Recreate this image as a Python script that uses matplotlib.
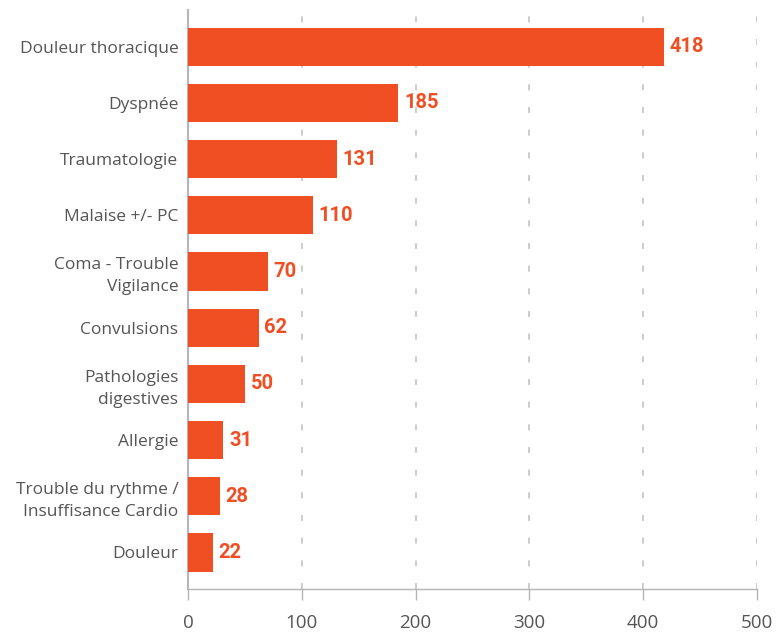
import matplotlib.pyplot as plt

categories = [
    "Douleur thoracique",
    "Dyspnée",
    "Traumatologie",
    "Malaise +/- PC",
    "Coma - Trouble\nVigilance",
    "Convulsions",
    "Pathologies\ndigestives",
    "Allergie",
    "Trouble du rythme /\nInsuffisance Cardio",
    "Douleur",
]
counts = [418, 185, 131, 110, 70, 62, 50, 31, 28, 22]
xticks = [0, 100, 200, 300, 400, 500]

BAR_COLOUR = "#F04E23"
TEXT_GREY = "#555555"
AXIS_GREY = "#b5b5b5"

plt.rcParams["font.family"] = ["Open Sans", "DejaVu Sans"]

fig = plt.figure(figsize=(7.77, 6.32), dpi=100)
ax = fig.add_axes([0.242, 0.068, 0.732, 0.916])

ypos = list(range(len(categories)))
ax.barh(ypos, counts, height=0.68, color=BAR_COLOUR, zorder=3)

for y, v in zip(ypos, counts):
    ax.text(v + 5, y, str(v), va="center", ha="left", fontsize=14.5,
            fontweight="bold", color=BAR_COLOUR, family=["Roboto", "DejaVu Sans"],
            zorder=4)

ax.set_yticks(ypos)
ax.set_yticklabels(categories, fontsize=12.5, color=TEXT_GREY, linespacing=1.5)
ax.set_ylim(len(categories) - 0.35, -0.65)

ax.set_xlim(0, 500)
ax.set_xticks(xticks)
ax.set_xticklabels([str(t) for t in xticks], fontsize=13.5, color=TEXT_GREY)

ax.tick_params(axis="y", length=0, pad=7)
ax.tick_params(axis="x", length=8, width=1, color=AXIS_GREY, pad=10)

ax.grid(axis="x", color="#c4c4c4", linestyle=(0, (3.6, 10)), linewidth=1.2, zorder=0)
ax.grid(axis="y", visible=False)

for side in ("top", "right"):
    ax.spines[side].set_visible(False)
ax.spines["left"].set_color(AXIS_GREY)
ax.spines["left"].set_linewidth(1.5)
ax.spines["bottom"].set_color(AXIS_GREY)
ax.spines["bottom"].set_linewidth(1)

fig.savefig("out.png", dpi=100)
